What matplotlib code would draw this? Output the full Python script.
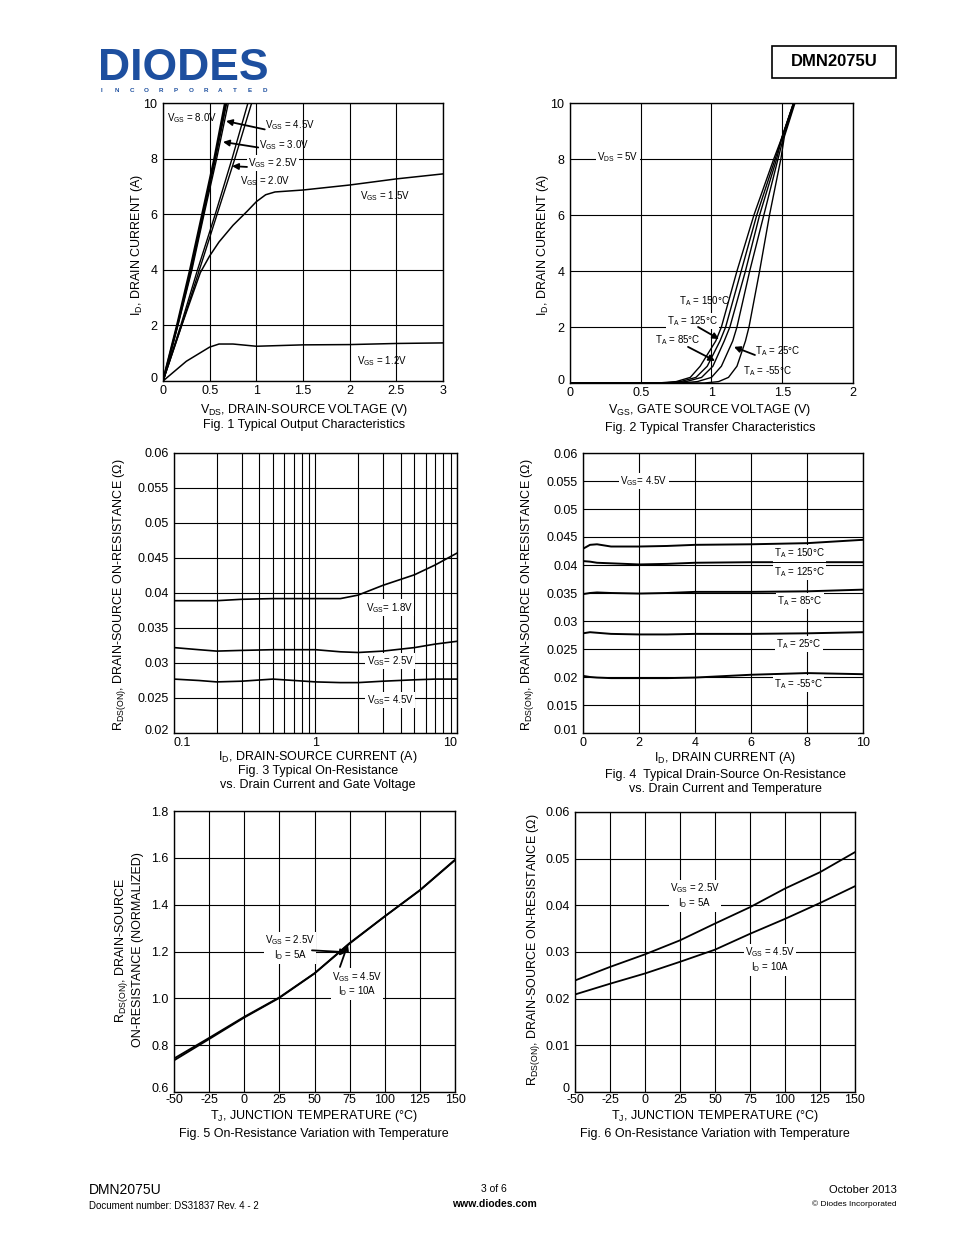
import numpy as np
import matplotlib
matplotlib.use('Agg')
import matplotlib.pyplot as plt
import matplotlib.transforms as mtrans
from matplotlib.patches import Rectangle

plt.rcParams['font.family'] = ['Liberation Sans', 'DejaVu Sans']
plt.rcParams['mathtext.fontset'] = 'custom'
plt.rcParams['mathtext.rm'] = 'Liberation Sans'
plt.rcParams['mathtext.it'] = 'Liberation Sans:italic'
plt.rcParams['mathtext.bf'] = 'Liberation Sans:bold'

# ---- Fig 1: output characteristics (VDS in V, ID in A)
vds_80 = [0, 0.15, 0.29, 0.42, 0.55, 0.665]
vds_45 = [0, 0.155, 0.30, 0.43, 0.56, 0.68]
vds_30 = [0, 0.16, 0.31, 0.44, 0.575, 0.70]
id_lin = [0, 2, 4, 6, 8, 10]
vds_25 = [0, 0.19, 0.37, 0.56, 0.74, 0.91]
vds_20 = [0, 0.20, 0.39, 0.58, 0.77, 0.95]
vds_15 = [0, 0.2, 0.4, 0.5, 0.6, 0.75, 0.9, 1.0, 1.1, 1.2, 1.5, 2.0, 2.5, 3.0]
id_15 = [0, 2.0, 3.9, 4.5, 5.0, 5.6, 6.1, 6.45, 6.7, 6.8, 6.87, 7.05, 7.27, 7.45]
vds_12 = [0, 0.25, 0.5, 0.6, 0.75, 1.0, 1.5, 2.0, 2.5, 3.0]
id_12 = [0, 0.71, 1.22, 1.33, 1.33, 1.25, 1.3, 1.31, 1.35, 1.37]

# ---- Fig 2: transfer characteristics (ID in A, VGS in V)
id_tr = [0, 0.05, 0.2, 0.6, 1.5, 2, 4, 6, 8, 8.8, 10]
vgs_150 = [0.62, 0.75, 0.85, 0.92, 1.03, 1.07, 1.18, 1.30, 1.44, 1.50, 1.58]
vgs_125 = [0.66, 0.78, 0.89, 0.97, 1.06, 1.10, 1.21, 1.32, 1.45, 1.50, 1.58]
vgs_85 = [0.70, 0.82, 0.93, 1.01, 1.09, 1.13, 1.24, 1.34, 1.46, 1.50, 1.58]
vgs_25 = [0.78, 0.90, 1.00, 1.07, 1.15, 1.18, 1.27, 1.37, 1.47, 1.51, 1.585]
vgs_m55 = [0.95, 1.05, 1.12, 1.18, 1.24, 1.265, 1.34, 1.41, 1.49, 1.515, 1.59]

# ---- Fig 3: RDS(on) vs ID and VGS
id_r = [0.1, 0.15, 0.2, 0.3, 0.5, 1, 1.5, 2, 3, 5, 7, 10]
r_18 = [0.0389, 0.0389, 0.0389, 0.0391, 0.0392, 0.0392, 0.0392, 0.0397, 0.0411, 0.0426, 0.0440, 0.0457]
r_25 = [0.0322, 0.0319, 0.0317, 0.0318, 0.0319, 0.0319, 0.0316, 0.0315, 0.0317, 0.0322, 0.0327, 0.0331]
r_45 = [0.0277, 0.0275, 0.0273, 0.0274, 0.0277, 0.0273, 0.0272, 0.0272, 0.0274, 0.0276, 0.0277, 0.0277]

# ---- Fig 4: RDS(on) vs ID and temperature
id_t = [0, 0.25, 0.5, 1, 2, 3, 4, 6, 8, 10]
rt_150 = [0.0429, 0.0436, 0.0437, 0.0433, 0.0433, 0.0434, 0.0436, 0.0437, 0.0439, 0.0445]
rt_125 = [0.0407, 0.0406, 0.0404, 0.0403, 0.0401, 0.0402, 0.0404, 0.0405, 0.0405, 0.0405]
rt_85 = [0.0348, 0.0350, 0.0351, 0.0350, 0.0349, 0.0350, 0.0352, 0.0352, 0.0353, 0.0356]
rt_25 = [0.0278, 0.0280, 0.0279, 0.0277, 0.0276, 0.0276, 0.0277, 0.0277, 0.0278, 0.0280]
rt_m55 = [0.0202, 0.0200, 0.0199, 0.0198, 0.0198, 0.0198, 0.0199, 0.0204, 0.0207, 0.0205]

# ---- Fig 5 / 6: vs junction temperature
tj = [-50, -25, 0, 25, 50, 75, 100, 125, 150]
norm_25 = [0.743, 0.831, 0.921, 1.004, 1.107, 1.236, 1.350, 1.461, 1.590]
norm_45 = [0.735, 0.826, 0.918, 1.002, 1.106, 1.234, 1.350, 1.462, 1.592]
rj_25 = [0.0239, 0.0268, 0.0295, 0.0325, 0.0361, 0.0396, 0.0436, 0.0471, 0.0514]
rj_45 = [0.0209, 0.0232, 0.0254, 0.0279, 0.0305, 0.0339, 0.0371, 0.0405, 0.0441]

W, H = 954, 1235
fig = plt.figure(figsize=(W / 100, H / 100), dpi=100)
FS = 9
AFS = 7


def ax_at(l, t, r, b):
    a = fig.add_axes([l / W, 1 - b / H, (r - l) / W, (b - t) / H])
    a.tick_params(length=0, labelsize=FS, pad=4)
    a.tick_params(axis='x', pad=3)
    for s in a.spines.values():
        s.set_linewidth(1.0)
    return a


def txt(x, y, s, **kw):
    kw.setdefault('fontsize', FS)
    fig.text(x / W, 1 - y / H, s, **kw)


def grid(a):
    a.grid(True, which='both', color='black', lw=0.8)
    a.set_axisbelow(True)


def lift_bottom(a, px=4):
    # the lowest y label sits a little above the bottom frame line
    lab = a.get_yticklabels()[0]
    lab.set_transform(lab.get_transform() + mtrans.ScaledTranslation(0, px / 100, fig.dpi_scale_trans))


def arrow(a, tip, tail):
    a.annotate('', xy=tip, xytext=tail,
               arrowprops=dict(arrowstyle='-|>', color='black', lw=1.3,
                               mutation_scale=9, shrinkA=0, shrinkB=0))


white = dict(facecolor='white', edgecolor='none', pad=1)

# Fig 1
a1 = ax_at(163, 103, 443, 381)
for v, lw in ((vds_80, 1.6), (vds_45, 1.4), (vds_30, 1.0)):
    a1.plot(v, id_lin, color='black', lw=lw)
a1.plot(vds_25, id_lin, color='black', lw=1.0)
a1.plot(vds_20, id_lin, color='black', lw=1.0)
a1.plot(vds_15, id_15, color='black', lw=1.1)
a1.plot(vds_12, id_12, color='black', lw=1.1)
a1.set_xlim(0, 3)
a1.set_ylim(0, 10)
a1.set_xticks([0, 0.5, 1, 1.5, 2, 2.5, 3])
a1.set_xticklabels(['0', '0.5', '1', '1.5', '2', '2.5', '3'])
a1.set_yticks([0, 2, 4, 6, 8, 10])
a1.set_yticklabels(['0', '2', '4', '6', '8', '10'])
grid(a1)
a1.text(0.045, 9.46, r'V$_{\mathrm{GS}}$ = 8.0V', fontsize=AFS, va='center')
a1.text(1.09, 9.2, r'V$_{\mathrm{GS}}$ = 4.5V', fontsize=AFS, va='center')
a1.text(1.03, 8.49, r'V$_{\mathrm{GS}}$ = 3.0V', fontsize=AFS, va='center')
a1.text(0.91, 7.84, r'V$_{\mathrm{GS}}$ = 2.5V', fontsize=AFS, va='center', bbox=white)
a1.text(0.825, 7.19, r'V$_{\mathrm{GS}}$ = 2.0V', fontsize=AFS, va='center')
a1.text(2.11, 6.65, r'V$_{\mathrm{GS}}$ = 1.5V', fontsize=AFS, va='center')
a1.text(2.08, 0.72, r'V$_{\mathrm{GS}}$ = 1.2V', fontsize=AFS, va='center')
arrow(a1, (0.675, 9.35), (1.09, 9.05))
arrow(a1, (0.643, 8.6), (1.02, 8.4))
arrow(a1, (0.74, 7.73), (0.90, 7.7))
txt(137, 245, r'I$_{\mathrm{D}}$, DRAIN CURRENT (A)', rotation=90, ha='center', va='center')
txt(304, 410, r'V$_{\mathrm{DS}}$, DRAIN-SOURCE VOLTAGE (V)', ha='center', va='center')
txt(304, 425, 'Fig. 1 Typical Output Characteristics', ha='center', va='center')

# Fig 2
a2 = ax_at(570, 103, 853, 383)
for v in (vgs_150, vgs_125, vgs_85, vgs_25, vgs_m55):
    a2.plot([0] + v, [0] + id_tr, color='black', lw=1.0)
a2.set_xlim(0, 2)
a2.set_ylim(0, 10)
a2.set_xticks([0, 0.5, 1, 1.5, 2])
a2.set_xticklabels(['0', '0.5', '1', '1.5', '2'])
a2.set_yticks([0, 2, 4, 6, 8, 10])
a2.set_yticklabels(['0', '2', '4', '6', '8', '10'])
grid(a2)
a2.text(0.19, 8.07, r'V$_{\mathrm{DS}}$ = 5V', fontsize=AFS, va='center', bbox=white)
a2.text(0.77, 2.93, 'T$_{\\mathrm{A}}$ = 150°C', fontsize=AFS, va='center')
a2.text(0.685, 2.21, 'T$_{\\mathrm{A}}$ = 125°C', fontsize=AFS, va='center', bbox=white)
a2.text(0.60, 1.54, 'T$_{\\mathrm{A}}$ = 85°C', fontsize=AFS, va='center')
a2.text(1.307, 1.14, 'T$_{\\mathrm{A}}$ = 25°C', fontsize=AFS, va='center')
a2.text(1.22, 0.43, 'T$_{\\mathrm{A}}$ = -55°C', fontsize=AFS, va='center')
arrow(a2, (1.053, 1.57), (0.905, 2.0))
arrow(a2, (1.025, 0.79), (0.834, 1.29))
arrow(a2, (1.159, 1.29), (1.307, 1.0))
txt(543, 245, r'I$_{\mathrm{D}}$, DRAIN CURRENT (A)', rotation=90, ha='center', va='center')
txt(710, 410, r'V$_{\mathrm{GS}}$, GATE SOURCE VOLTAGE (V)', ha='center', va='center')
txt(710, 428, 'Fig. 2 Typical Transfer Characteristics', ha='center', va='center')

# Fig 3
a3 = ax_at(174, 453, 457, 733)
a3.set_xscale('log')
a3.plot(id_r, r_18, color='black', lw=1.2)
a3.plot(id_r, r_25, color='black', lw=1.2)
a3.plot(id_r, r_45, color='black', lw=1.2)
a3.set_xlim(0.1, 10)
a3.set_ylim(0.02, 0.06)
a3.set_xticks([0.1, 1, 10])
a3.set_xticklabels(['0.1', '1', '10'])
a3.xaxis.set_minor_formatter(plt.NullFormatter())
a3.tick_params(which='minor', length=0)
labs = a3.get_xticklabels()
labs[0].set_ha('left')
labs[-1].set_ha('right')
a3.set_yticks(np.arange(0.02, 0.0601, 0.005))
a3.set_yticklabels(['0.02', '0.025', '0.03', '0.035', '0.04', '0.045', '0.05', '0.055', '0.06'])
grid(a3)
a3.text(2.27, 0.0379, r'V$_{\mathrm{GS}}$= 1.8V', fontsize=AFS, va='center', bbox=white)
a3.text(2.3, 0.0303, r'V$_{\mathrm{GS}}$= 2.5V', fontsize=AFS, va='center', bbox=white)
a3.text(2.3, 0.0247, r'V$_{\mathrm{GS}}$= 4.5V', fontsize=AFS, va='center', bbox=white)
txt(120, 595, r'R$_{\mathrm{DS(ON)}}$, DRAIN-SOURCE ON-RESISTANCE ($\Omega$)', rotation=90, ha='center', va='center')
txt(318, 757, r'I$_{\mathrm{D}}$, DRAIN-SOURCE CURRENT (A)', ha='center', va='center')
txt(318, 771, 'Fig. 3 Typical On-Resistance', ha='center', va='center')
txt(318, 785, 'vs. Drain Current and Gate Voltage', ha='center', va='center')

# Fig 4
a4 = ax_at(583, 453, 863, 733)
for r in (rt_150, rt_125, rt_85, rt_25, rt_m55):
    a4.plot(id_t, r, color='black', lw=1.4)
a4.set_xlim(0, 10)
a4.set_ylim(0.01, 0.06)
a4.set_xticks([0, 2, 4, 6, 8, 10])
a4.set_xticklabels(['0', '2', '4', '6', '8', '10'])
a4.set_yticks(np.arange(0.01, 0.0601, 0.005))
a4.set_yticklabels(['0.01', '0.015', '0.02', '0.025', '0.03', '0.035', '0.04',
                    '0.045', '0.05', '0.055', '0.06'])
grid(a4)
a4.text(1.32, 0.055, r'V$_{\mathrm{GS}}$= 4.5V', fontsize=AFS, va='center', bbox=white)
a4.text(6.82, 0.0421, 'T$_{\\mathrm{A}}$ = 150°C', fontsize=AFS, va='center', bbox=white)
a4.text(6.82, 0.0388, 'T$_{\\mathrm{A}}$ = 125°C', fontsize=AFS, va='center', bbox=white)
a4.text(6.93, 0.0336, 'T$_{\\mathrm{A}}$ = 85°C', fontsize=AFS, va='center', bbox=white)
a4.text(6.9, 0.0259, 'T$_{\\mathrm{A}}$ = 25°C', fontsize=AFS, va='center', bbox=white)
a4.text(6.82, 0.0188, 'T$_{\\mathrm{A}}$ = -55°C', fontsize=AFS, va='center', bbox=white)
txt(527, 595, r'R$_{\mathrm{DS(ON)}}$, DRAIN-SOURCE ON-RESISTANCE ($\Omega$)', rotation=90, ha='center', va='center')
txt(725, 758, r'I$_{\mathrm{D}}$, DRAIN CURRENT (A)', ha='center', va='center')
txt(725, 775, 'Fig. 4  Typical Drain-Source On-Resistance', ha='center', va='center')
txt(725, 789, 'vs. Drain Current and Temperature', ha='center', va='center')

# Fig 5
a5 = ax_at(174, 811, 455, 1092)
a5.plot(tj, norm_25, color='black', lw=1.3)
a5.plot(tj, norm_45, color='black', lw=1.3)
a5.set_xlim(-50, 150)
a5.set_ylim(0.6, 1.8)
a5.set_xticks(tj)
a5.set_xticklabels([str(t) for t in tj])
a5.tick_params(axis='x', pad=1.5)
a5.set_yticks([0.6, 0.8, 1.0, 1.2, 1.4, 1.6, 1.8])
a5.set_yticklabels(['0.6', '0.8', '1.0', '1.2', '1.4', '1.6', '1.8'])
grid(a5)
a5.text(32.6, 1.215, 'V$_{\\mathrm{GS}}$ = 2.5V\nI$_{\\mathrm{D}}$ = 5A', fontsize=AFS,
        ha='center', va='center', bbox=white, linespacing=1.1)
a5.text(80.2, 1.061, 'V$_{\\mathrm{GS}}$ = 4.5V\nI$_{\\mathrm{D}}$ = 10A', fontsize=AFS,
        ha='center', va='center', bbox=white, linespacing=1.1)
arrow(a5, (73.1, 1.197), (48.2, 1.205))
arrow(a5, (73.8, 1.232), (68.1, 1.134))
txt(122, 950, r'R$_{\mathrm{DS(ON)}}$, DRAIN-SOURCE', rotation=90, ha='center', va='center')
txt(138, 950, 'ON-RESISTANCE (NORMALIZED)', rotation=90, ha='center', va='center')
txt(314, 1116, r'T$_{\mathrm{J}}$, JUNCTION TEMPERATURE (°C)', ha='center', va='center')
txt(314, 1134, 'Fig. 5 On-Resistance Variation with Temperature', ha='center', va='center')

# Fig 6
a6 = ax_at(575, 812, 855, 1092)
a6.plot(tj, rj_25, color='black', lw=1.3)
a6.plot(tj, rj_45, color='black', lw=1.3)
a6.set_xlim(-50, 150)
a6.set_ylim(0, 0.06)
a6.set_xticks(tj)
a6.set_xticklabels([str(t) for t in tj])
a6.tick_params(axis='x', pad=1.5)
a6.set_yticks([0, 0.01, 0.02, 0.03, 0.04, 0.05, 0.06])
a6.set_yticklabels(['0', '0.01', '0.02', '0.03', '0.04', '0.05', '0.06'])
grid(a6)
a6.text(35.7, 0.042, 'V$_{\\mathrm{GS}}$ = 2.5V\nI$_{\\mathrm{D}}$ = 5A', fontsize=AFS,
        ha='center', va='center', bbox=white, linespacing=1.1)
a6.text(89.3, 0.0283, 'V$_{\\mathrm{GS}}$ = 4.5V\nI$_{\\mathrm{D}}$ = 10A', fontsize=AFS,
        ha='center', va='center', bbox=white, linespacing=1.1)
txt(533, 950, r'R$_{\mathrm{DS(ON)}}$, DRAIN-SOURCE ON-RESISTANCE ($\Omega$)', rotation=90, ha='center', va='center')
txt(715, 1116, r'T$_{\mathrm{J}}$, JUNCTION TEMPERATURE (°C)', ha='center', va='center')
txt(715, 1134, 'Fig. 6 On-Resistance Variation with Temperature', ha='center', va='center')

for a in (a1, a2, a3, a4, a5, a6):
    lift_bottom(a, 4)

# header
txt(98, 68, 'DIODES', fontsize=32, fontweight='bold', color='#1d4f9f', va='center', ha='left')
for i, ch in enumerate('INCORPORATED'):
    txt(102 + i * 14.8, 90, ch, fontsize=4.5, fontweight='bold', color='#1d4f9f',
        va='center', ha='center')
fig.patches.append(Rectangle((772 / W, 1 - 78 / H), 124 / W, 32 / H, transform=fig.transFigure,
                             fill=False, edgecolor='black', lw=1.2))
txt(834, 62, 'DMN2075U', fontsize=12, fontweight='bold', ha='center', va='center')

# footer
txt(89, 1190, 'DMN2075U', fontsize=10, va='center')
txt(89, 1206, 'Document number: DS31837 Rev. 4 - 2', fontsize=7, va='center')
txt(494, 1189, '3 of 6', fontsize=7.5, ha='center', va='center')
txt(494, 1204, 'www.diodes.com', fontsize=7.5, fontweight='bold', ha='center', va='center')
txt(897, 1190, 'October 2013', fontsize=8, ha='right', va='center')
txt(897, 1204, '© Diodes Incorporated', fontsize=6, ha='right', va='center')

fig.savefig('out.png', dpi=100)
